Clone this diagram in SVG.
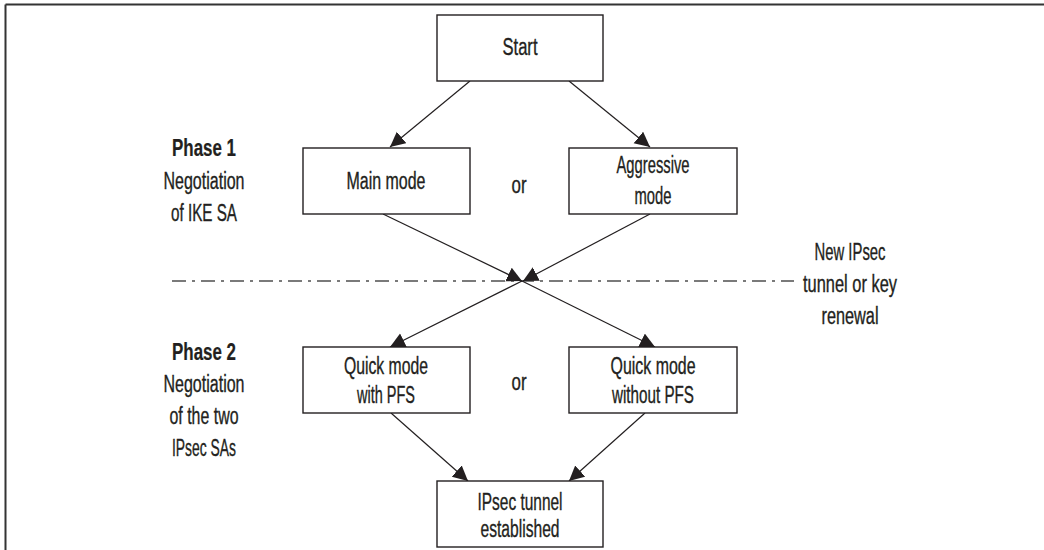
<svg xmlns="http://www.w3.org/2000/svg" width="1044" height="550" viewBox="0 0 1044 550">
<style>
.box{fill:#fff;stroke:#231f20;stroke-width:1.4}
.t{font-family:"Liberation Sans",Arial,sans-serif;font-size:23px;fill:#231f20;stroke:#231f20;stroke-width:0.35;text-anchor:middle}
.b{font-weight:bold;stroke-width:0.2}
.c{stroke:#231f20;stroke-width:1.2;fill:none;marker-end:url(#ah)}
</style>
<defs>
<marker id="ah" markerUnits="userSpaceOnUse" markerWidth="17" markerHeight="17" refX="15" refY="7.5" orient="auto">
<path d="M0,0 L15,7.5 L0,15 z" fill="#231f20"/>
</marker>
</defs>
<rect width="1044" height="550" fill="#fff"/>
<g id="frame">
<line x1="5.5" y1="4.5" x2="1044" y2="4.5" stroke="#333" stroke-width="2"/>
<line x1="5.5" y1="4.5" x2="5.5" y2="550" stroke="#333" stroke-width="2"/>
</g>
<g id="separator">
<line x1="172" y1="281" x2="794" y2="281" stroke="#7a7a7a" stroke-width="2" stroke-dasharray="14 6 3 6"/>
</g>
<g id="connectors">
<line class="c" x1="470" y1="81" x2="390" y2="147"/>
<line class="c" x1="569" y1="81" x2="650" y2="147"/>
<line class="c" x1="383" y1="214" x2="522" y2="281"/>
<line class="c" x1="650" y1="214" x2="523" y2="281"/>
<line class="c" x1="522" y1="281" x2="390" y2="347"/>
<line class="c" x1="522" y1="281" x2="655" y2="347"/>
<line class="c" x1="391" y1="413" x2="468" y2="481"/>
<line class="c" x1="645" y1="413" x2="569" y2="481"/>
</g>
<g id="start">
<rect class="box" x="437" y="15" width="166" height="66"/>
<text class="t" x="520" y="55" textLength="35" lengthAdjust="spacingAndGlyphs">Start</text>
</g>
<g id="main-mode">
<rect class="box" x="303" y="148" width="167" height="66"/>
<text class="t" x="386" y="189" textLength="79" lengthAdjust="spacingAndGlyphs">Main mode</text>
</g>
<g id="aggressive-mode">
<rect class="box" x="569" y="148" width="168" height="66"/>
<text class="t" x="653" y="173" textLength="73" lengthAdjust="spacingAndGlyphs">Aggressive</text>
<text class="t" x="653" y="204" textLength="37" lengthAdjust="spacingAndGlyphs">mode</text>
</g>
<g id="quick-pfs">
<rect class="box" x="303" y="347" width="167" height="66"/>
<text class="t" x="386" y="374" textLength="84" lengthAdjust="spacingAndGlyphs">Quick mode</text>
<text class="t" x="386" y="403" textLength="58" lengthAdjust="spacingAndGlyphs">with PFS</text>
</g>
<g id="quick-nopfs">
<rect class="box" x="569" y="347" width="168" height="66"/>
<text class="t" x="653" y="374" textLength="85" lengthAdjust="spacingAndGlyphs">Quick mode</text>
<text class="t" x="653" y="403" textLength="82" lengthAdjust="spacingAndGlyphs">without PFS</text>
</g>
<g id="established">
<rect class="box" x="437" y="481" width="166" height="66"/>
<text class="t" x="520" y="510" textLength="85" lengthAdjust="spacingAndGlyphs">IPsec tunnel</text>
<text class="t" x="520" y="537" textLength="79" lengthAdjust="spacingAndGlyphs">established</text>
</g>
<g id="labels">
<text class="t" x="519" y="193" textLength="15" lengthAdjust="spacingAndGlyphs">or</text>
<text class="t" x="519" y="390" textLength="15" lengthAdjust="spacingAndGlyphs">or</text>
<text class="t b" x="204" y="156" textLength="64" lengthAdjust="spacingAndGlyphs">Phase 1</text>
<text class="t" x="204" y="189" textLength="81" lengthAdjust="spacingAndGlyphs">Negotiation</text>
<text class="t" x="204" y="221" textLength="66" lengthAdjust="spacingAndGlyphs">of IKE SA</text>
<text class="t b" x="204" y="360" textLength="64" lengthAdjust="spacingAndGlyphs">Phase 2</text>
<text class="t" x="204" y="392" textLength="81" lengthAdjust="spacingAndGlyphs">Negotiation</text>
<text class="t" x="204" y="424" textLength="69" lengthAdjust="spacingAndGlyphs">of the two</text>
<text class="t" x="204" y="456" textLength="64" lengthAdjust="spacingAndGlyphs">IPsec SAs</text>
<text class="t" x="850" y="260" textLength="71" lengthAdjust="spacingAndGlyphs">New IPsec</text>
<text class="t" x="850" y="292" textLength="94" lengthAdjust="spacingAndGlyphs">tunnel or key</text>
<text class="t" x="850" y="324" textLength="57" lengthAdjust="spacingAndGlyphs">renewal</text>
</g>
</svg>
